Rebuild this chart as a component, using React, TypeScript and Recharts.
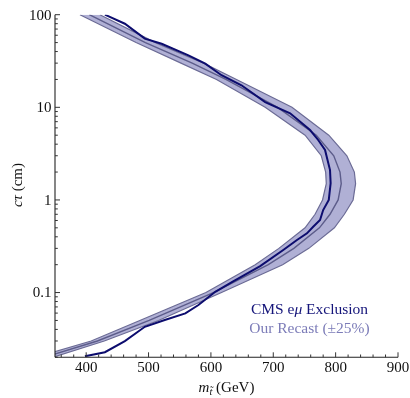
import React from "react";
import { ComposedChart, Area, Line, XAxis, YAxis } from "recharts";

// lifetime grid (cm) used for the recast band
const ctGrid = [100, 50, 30, 20, 10, 5, 3, 2, 1.5, 1, 0.7, 0.5, 0.3, 0.2, 0.1, 0.05, 0.03, 0.02];
const bandLow = [390, 480, 552, 609, 687, 751, 777, 784, 785, 779, 767, 751, 709, 671, 592, 486, 408, 320];
const bandHigh = [422, 511, 588, 641, 730, 789, 818, 830, 832, 828, 814, 798, 757, 715, 617, 516, 429, 347];
const recastMid = [405, 495, 570, 624, 707, 769, 797, 807, 809, 804, 791, 774, 733, 692, 604, 501, 418, 333];

// CMS e-mu exclusion contour
const cmsCt = [100, 79.9, 55.1, 48.6, 36.4, 29.6, 22.2, 17.3, 11.4, 8.61, 5.69, 4.44, 3.46, 2.1, 1.52, 1.0, 0.778, 0.607, 0.514, 0.436, 0.369, 0.288, 0.193, 0.131, 0.102, 0.0733, 0.0596, 0.0505, 0.0427, 0.0299, 0.0227, 0.0205];
const cmsMass = [430, 462, 494, 521, 564, 591, 617, 649, 687, 727, 759, 772, 783, 791, 792, 789, 780, 775, 764, 754, 738, 716, 679, 635, 607, 580, 559, 526, 494, 462, 430, 398];

// ticks
const xMajorTicks = [400, 500, 600, 700, 800, 900];
const xMinorTicks = [360, 380, 420, 440, 460, 480, 520, 540, 560, 580, 620, 640, 660, 680, 720, 740, 760, 780, 820, 840, 860, 880];
const yMajorTicks = [0.1, 1, 10, 100];
const yMinorTicks = [0.02, 0.03, 0.04, 0.05, 0.06, 0.07, 0.08, 0.09, 0.2, 0.3, 0.4, 0.5, 0.6, 0.7, 0.8, 0.9, 2, 3, 4, 5, 6, 7, 8, 9, 20, 30, 40, 50, 60, 70, 80, 90];
const yMajorLabels = ["0.1", "1", "10", "100"];

const bandData = ctGrid.map((ct, i) => ({ ct, band: [bandLow[i], bandHigh[i]], mid: recastMid[i] }));
const cmsData = cmsCt.map((ct, i) => ({ ct, cms: cmsMass[i] }));

const allX = [...xMajorTicks, ...xMinorTicks].sort((a, b) => a - b);
const allY = [...yMajorTicks, ...yMinorTicks].sort((a, b) => a - b);

const FONT = "'Liberation Serif', 'DejaVu Serif', serif";
const TICK_COLOR = "#333";
const MAJ = 5;
const MIN = 2.8;

const BottomTick = (p: any) => {
  const v = p.payload.value;
  const major = xMajorTicks.includes(v);
  return (
    <g>
      <line x1={p.x} x2={p.x} y1={p.y} y2={p.y - (major ? MAJ : MIN)} stroke={TICK_COLOR} strokeWidth={1} />
      {major && (
        <text x={p.x} y={p.y + 14.6} textAnchor="middle" fontFamily={FONT} fontSize={15} fill="#111">
          {v}
        </text>
      )}
    </g>
  );
};
const TopTick = (p: any) => {
  const v = p.payload.value;
  const major = xMajorTicks.includes(v);
  return <line x1={p.x} x2={p.x} y1={p.y} y2={p.y + (major ? MAJ : MIN)} stroke={TICK_COLOR} strokeWidth={1} />;
};
const LeftTick = (p: any) => {
  const v = p.payload.value;
  const idx = yMajorTicks.findIndex((t) => Math.abs(t - v) < 1e-9);
  const major = idx >= 0;
  return (
    <g>
      <line x1={p.x} x2={p.x + (major ? MAJ : MIN)} y1={p.y} y2={p.y} stroke={TICK_COLOR} strokeWidth={1} />
      {major && (
        <text x={p.x - 3.5} y={p.y + 4.8} textAnchor="end" fontFamily={FONT} fontSize={15} fill="#111">
          {yMajorLabels[idx]}
        </text>
      )}
    </g>
  );
};
const RightTick = (p: any) => {
  const v = p.payload.value;
  const major = yMajorTicks.some((t) => Math.abs(t - v) < 1e-9);
  return <line x1={p.x} x2={p.x - (major ? MAJ : MIN)} y1={p.y} y2={p.y} stroke={TICK_COLOR} strokeWidth={1} />;
};

export default function App() {
  const W = 402;
  const H = 390;
  return (
    <div style={{ position: "fixed", left: 8, top: 8, width: W, height: H }}>
      <ComposedChart
        width={W}
        height={H}
        data={bandData}
        layout="vertical"
        margin={{ top: 6.7, right: 12, bottom: 0, left: 0 }}
        style={{ overflow: "visible" }}
      >
        <XAxis
          xAxisId="b"
          type="number"
          orientation="bottom"
          domain={[350, 900]}
          allowDataOverflow
          ticks={allX}
          interval={0}
          height={40.7}
          tickSize={0}
          tickMargin={0}
          tickLine={false}
          tick={<BottomTick />}
          axisLine={{ stroke: "#222", strokeWidth: 1.1 }}
        />
        <XAxis
          xAxisId="t"
          type="number"
          orientation="top"
          domain={[350, 900]}
          allowDataOverflow
          ticks={allX}
          interval={0}
          height={0}
          tickSize={0}
          tickMargin={0}
          tickLine={false}
          tick={<TopTick />}
          axisLine={{ stroke: "#555", strokeWidth: 1.1 }}
        />
        <YAxis
          yAxisId="l"
          dataKey="ct"
          type="number"
          scale="log"
          reversed
          orientation="left"
          domain={[0.02, 100]}
          allowDataOverflow
          ticks={allY}
          interval={0}
          width={47}
          tickSize={0}
          tickMargin={0}
          tickLine={false}
          tick={<LeftTick />}
          axisLine={{ stroke: "#222", strokeWidth: 1.1 }}
        />
        <YAxis
          yAxisId="r"
          dataKey="ct"
          type="number"
          scale="log"
          reversed
          orientation="right"
          domain={[0.02, 100]}
          allowDataOverflow
          ticks={allY}
          interval={0}
          width={0}
          tickSize={0}
          tickMargin={0}
          tickLine={false}
          tick={<RightTick />}
          axisLine={{ stroke: "#555", strokeWidth: 1.1 }}
        />
        <Area
          xAxisId="b"
          yAxisId="l"
          dataKey="band"
          type="linear"
          fill="#b0b0d5"
          fillOpacity={1}
          stroke="#6c6c96"
          strokeWidth={1.2}
          isAnimationActive={false}
          dot={false}
          activeDot={false}
        />
        <Line
          xAxisId="b"
          yAxisId="l"
          dataKey="mid"
          type="linear"
          stroke="#5c5c8a"
          strokeWidth={1.4}
          dot={false}
          activeDot={false}
          isAnimationActive={false}
        />
        <Line
          xAxisId="b"
          yAxisId="l"
          data={cmsData}
          dataKey="cms"
          type="linear"
          stroke="#0c0c6e"
          strokeWidth={2}
          dot={false}
          activeDot={false}
          isAnimationActive={false}
        />
      </ComposedChart>
      <svg
        width={W}
        height={H}
        style={{ position: "absolute", left: 0, top: 0, pointerEvents: "none", overflow: "visible" }}
      >
        <text x={301.5} y={306} textAnchor="middle" fontFamily={FONT} fontSize={15.5} fill="#15157a">
          CMS e<tspan fontStyle="italic">μ</tspan> Exclusion
        </text>
        <text x={301.5} y={324.7} textAnchor="middle" fontFamily={FONT} fontSize={15.5} fill="#7c7cb8">
          Our Recast (±25%)
        </text>
        <text x={218.5} y={384} textAnchor="middle" fontFamily={FONT} fontSize={15} fill="#111">
          <tspan fontStyle="italic">m</tspan>
          <tspan fontStyle="italic" fontSize={10.5} dy={3}>t̃</tspan>
          <tspan dy={-3}> (GeV)</tspan>
        </text>
        <text
          x={14}
          y={177}
          transform="rotate(-90 14 177)"
          textAnchor="middle"
          fontFamily={FONT}
          fontSize={15}
          fill="#111"
        >
          <tspan fontStyle="italic">cτ</tspan> (cm)
        </text>
      </svg>
    </div>
  );
}
